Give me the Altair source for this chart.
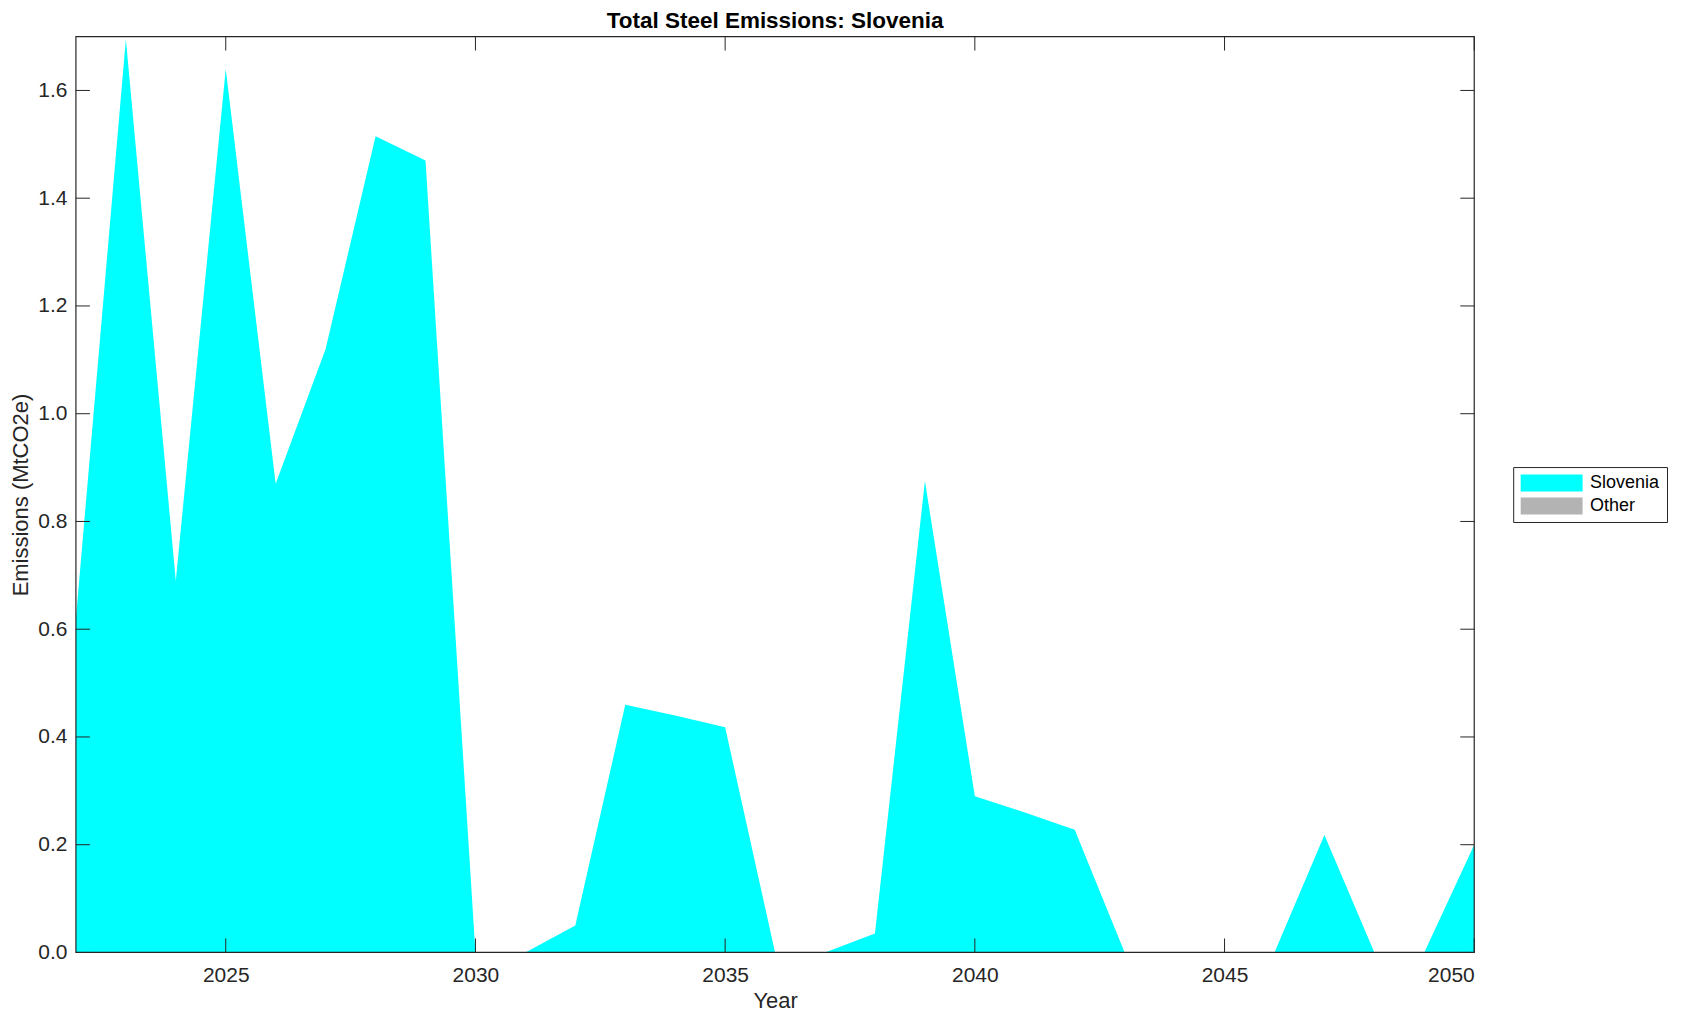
import altair as alt
import pandas as pd

years = list(range(2022, 2051))
slovenia = [0.62, 1.695, 0.69, 1.64, 0.87, 1.12, 1.515, 1.47, 0.0, 0.0,
            0.05, 0.46, 0.44, 0.418, 0.0, 0.0, 0.035, 0.875, 0.29, 0.26,
            0.228, 0.0, 0.0, 0.0, 0.0, 0.218, 0.0, 0.0, 0.2]
other = [0.0] * len(years)
series_names = ["Slovenia", "Other"]
series_colors = ["#00FFFF", "#B3B3B3"]
x_ticks = [2025, 2030, 2035, 2040, 2045, 2050]
y_ticks = [0.0, 0.2, 0.4, 0.6, 0.8, 1.0, 1.2, 1.4, 1.6]
title_text = ["Total Steel Emissions: Slovenia"]

W, H = 1400, 917
FONT = "Liberation Sans"
AX = "#262626"
TL = 14

rows = []
for i, y in enumerate(years):
    rows.append({"Year": y, "series": "Slovenia", "value": slovenia[i], "order": 0})
    rows.append({"Year": y, "series": "Other", "value": other[i], "order": 1})
df = pd.DataFrame(rows)
xt = pd.DataFrame({"Year": x_ticks})
yt = pd.DataFrame({"value": y_ticks})

xscale = alt.Scale(domain=[2022, 2050], nice=False, zero=False)
yscale = alt.Scale(domain=[0, 1.7], nice=False)

xaxis = alt.Axis(
    values=x_ticks, format="d", tickSize=0, domain=False, grid=False,
    labelFont=FONT, labelFontSize=21, labelColor=AX, labelPadding=12,
    title="Year", titleFont=FONT, titleFontSize=22, titleFontWeight="normal",
    titleColor=AX, titleX=W / 2, titleY=48, titleBaseline="middle")
yaxis = alt.Axis(
    values=y_ticks, format=".1f", tickSize=0, domain=False, grid=False,
    labelFont=FONT, labelFontSize=21, labelColor=AX, labelPadding=9,
    title="Emissions (MtCO2e)", titleFont=FONT, titleFontSize=22,
    titleFontWeight="normal", titleColor=AX, titleX=-55, titleY=H / 2,
    titleBaseline="middle", titleAlign="center", titleAngle=270)

area = alt.Chart(df).mark_area(interpolate="linear").encode(
    x=alt.X("Year:Q", scale=xscale, axis=xaxis),
    y=alt.Y("value:Q", stack="zero", scale=yscale, axis=yaxis),
    color=alt.Color("series:N", scale=alt.Scale(domain=series_names, range=series_colors),
                    sort=series_names,
                    legend=alt.Legend(
                        title=None, orient="none", legendX=1439, legendY=431,
                        fillColor="white", strokeColor=AX, padding=7,
                        labelFont=FONT, labelFontSize=18, labelColor="black",
                        symbolType="M-1,-1L6.29,-1L6.29,1L-1,1Z", symbolSize=289,
                        symbolStrokeWidth=0, labelOffset=52, rowPadding=5)),
    order=alt.Order("order:Q"),
)

tick_bottom = alt.Chart(xt).mark_rule(color=AX, strokeWidth=1).encode(
    x=alt.X("Year:Q", scale=xscale, axis=xaxis), y=alt.value(H), y2=alt.value(H - TL))
tick_top = alt.Chart(xt).mark_rule(color=AX, strokeWidth=1).encode(
    x=alt.X("Year:Q", scale=xscale, axis=xaxis), y=alt.value(0), y2=alt.value(TL))
tick_left = alt.Chart(yt).mark_rule(color=AX, strokeWidth=1).encode(
    y=alt.Y("value:Q", scale=yscale, axis=yaxis), x=alt.value(0), x2=alt.value(TL))
tick_right = alt.Chart(yt).mark_rule(color=AX, strokeWidth=1).encode(
    y=alt.Y("value:Q", scale=yscale, axis=yaxis), x=alt.value(W - TL), x2=alt.value(W))

frame = alt.Chart(pd.DataFrame({"a": [0]})).mark_rect(
    filled=False, stroke=AX, strokeWidth=1.2).encode(
    x=alt.value(0), x2=alt.value(W), y=alt.value(0), y2=alt.value(H))

title = alt.Chart(pd.DataFrame({"t": title_text})).mark_text(
    font=FONT, fontSize=22.5, fontWeight="bold", color="black",
    align="center", baseline="alphabetic").encode(
    text="t:N", x=alt.value(W / 2), y=alt.value(-9))

chart = alt.layer(area, tick_bottom, tick_top, tick_left, tick_right, frame, title).properties(
    width=W, height=H,
    padding={"left": 68, "top": 28, "right": 200, "bottom": 60},
    autosize=alt.AutoSizeParams(type="none"),
).configure_view(stroke=None)

chart.save("out.html", embed_options={"renderer": "svg", "actions": False})
